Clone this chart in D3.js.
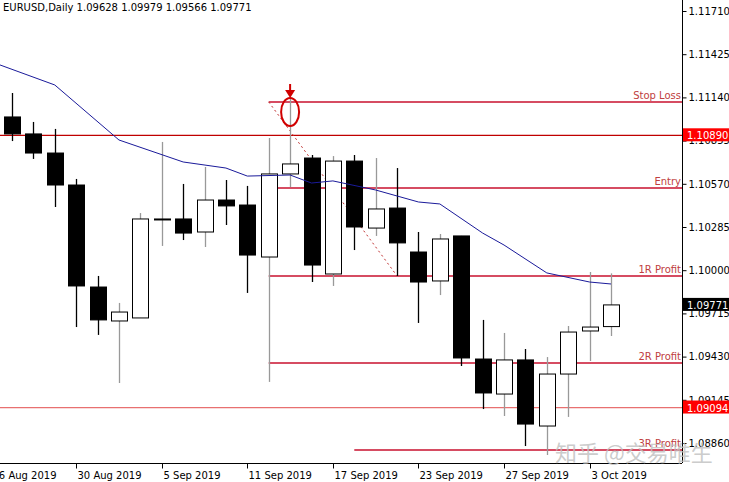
<!DOCTYPE html>
<html><head><meta charset="utf-8">
<script src="https://cdn.jsdelivr.net/npm/d3@7"></script>
<style>body{margin:0;background:#fff}svg{display:block;font-family:Tahoma,"DejaVu Sans",sans-serif}</style>
</head><body><svg id="c" width="729" height="482"></svg>
<script>
const dates=["27 Aug","28 Aug","29 Aug","30 Aug","2 Sep","3 Sep","4 Sep","5 Sep","6 Sep","9 Sep","10 Sep","11 Sep","12 Sep","13 Sep","16 Sep","17 Sep","18 Sep","19 Sep","20 Sep","23 Sep","24 Sep","25 Sep","26 Sep","27 Sep","30 Sep","1 Oct","2 Oct","3 Oct","4 Oct"];
const open =[1.11011,1.10899,1.10773,1.10562,1.09889,1.09665,1.09685,1.10338,1.10338,1.10252,1.10463,1.10430,1.10087,1.10635,1.10740,1.09975,1.10720,1.10278,1.10410,1.10120,1.09929,1.10226,1.09414,1.09183,1.09408,1.08972,1.09315,1.09599,1.09628];
const high =[1.11169,1.10978,1.10932,1.10602,1.09962,1.09784,1.10377,1.10846,1.10569,1.10681,1.10595,1.10556,1.10872,1.11136,1.10760,1.10753,1.10760,1.10740,1.10674,1.10252,1.10239,1.10226,1.09672,1.09586,1.09480,1.09427,1.09632,1.09988,1.09979];
const low  =[1.10852,1.10734,1.10417,1.09625,1.09573,1.09256,1.09685,1.10160,1.10199,1.10153,1.10298,1.09850,1.09263,1.10549,1.09922,1.09896,1.10133,1.10226,1.09962,1.09652,1.09836,1.09368,1.09084,1.09038,1.08840,1.08781,1.09032,1.09401,1.09566];
const close=[1.10899,1.10773,1.10562,1.09896,1.09672,1.09724,1.10338,1.10338,1.10245,1.10463,1.10424,1.10100,1.10635,1.10701,1.10034,1.10720,1.10285,1.10404,1.10180,1.09922,1.10206,1.09421,1.09190,1.09408,1.08985,1.09315,1.09592,1.09625,1.09771];
const maIdx=[-0.56,2,5,8,10,11,13,14,15,17,19,20,22,23,25,27,28];
const maVal=[1.11354,1.11222,1.10859,1.10714,1.10674,1.10621,1.10628,1.10575,1.10589,1.10529,1.10450,1.10437,1.10245,1.10166,1.09982,1.09922,1.09909];
const yTicks=[1.11710,1.11425,1.11140,1.10855,1.10570,1.10285,1.10000,1.09715,1.09430,1.09145,1.08860];
const xTickIdx=[-1,3,7,11,15,19,23,27];
const xTickLabels=["26 Aug 2019","30 Aug 2019","5 Sep 2019","11 Sep 2019","17 Sep 2019","23 Sep 2019","27 Sep 2019","3 Oct 2019"];
const levels=[{p:1.11110,label:"Stop Loss",from:12},{p:1.10542,label:"Entry",from:12},{p:1.09962,label:"1R Profit",from:12},{p:1.09388,label:"2R Profit",from:12},{p:1.08814,label:"3R Profit",from:16}];
const fullLines=[{p:1.10890,c:"#c00000"},{p:1.09094,c:"#e87070"}];
const tags=[{p:1.10890,t:"1.10890",c:"#ff0000"},{p:1.09094,t:"1.09094",c:"#ff0000"},{p:1.09771,t:"1.09771",c:"#000"}];

const svg=d3.select("#c"),W=682,H=463;
const x=d3.scaleLinear().domain([0,28]).range([12,611]);
const y=d3.scaleLinear().domain([1.08860,1.11710]).range([443,11]);
const g=svg.append("g");
fullLines.forEach(l=>g.append("line").attr("x1",0).attr("x2",W).attr("y1",y(l.p)).attr("y2",y(l.p)).attr("stroke",l.c).attr("stroke-width",1.2));
levels.forEach(l=>{
  const yy=y(l.p);
  g.append("line").attr("x1",x(l.from)).attr("x2",W).attr("y1",yy).attr("y2",yy).attr("stroke","#c8102e").attr("stroke-width",1.5);
  g.append("text").attr("x",W-1).attr("y",yy-3).attr("text-anchor","end").attr("font-size",10).attr("fill","#c04040").text(l.label);
});
g.append("line").attr("x1",x(12)).attr("y1",y(1.11110)).attr("x2",x(18)).attr("y2",y(1.09962)).attr("stroke","#c03030").attr("stroke-dasharray","2,3");
const bw=16;
dates.forEach((d,i)=>{
  const up=close[i]>=open[i], cx=Math.round(x(i))+0.5;
  g.append("line").attr("x1",cx).attr("x2",cx).attr("y1",y(high[i])).attr("y2",y(low[i])).attr("stroke",up?"#999":"#000").attr("stroke-width",1.3);
  const t=y(Math.max(open[i],close[i])),b=y(Math.min(open[i],close[i]));
  g.append("rect").attr("x",cx-bw/2).attr("y",t).attr("width",bw).attr("height",Math.max(1,b-t)).attr("fill",up?"#fff":"#000").attr("stroke","#000").attr("stroke-width",1);
});
g.append("path").datum(maIdx.map((v,i)=>[v,maVal[i]])).attr("d",d3.line().x(d=>x(d[0])).y(d=>y(d[1]))).attr("fill","none").attr("stroke","#1a1a9a").attr("stroke-width",1);
g.append("ellipse").attr("cx",x(13)).attr("cy",y(1.11110)+10).attr("rx",9).attr("ry",14).attr("fill","none").attr("stroke","#d00000").attr("stroke-width",2);
g.append("line").attr("x1",x(13)).attr("x2",x(13)).attr("y1",84).attr("y2",92).attr("stroke","#d00000").attr("stroke-width",2);
g.append("path").attr("d",`M${x(13)-5},90L${x(13)+5},90L${x(13)},98Z`).attr("fill","#d00000");
svg.append("line").attr("x1",W+0.5).attr("x2",W+0.5).attr("y1",0).attr("y2",H).attr("stroke","#000");
svg.append("line").attr("x1",0).attr("x2",W).attr("y1",H+0.5).attr("y2",H+0.5).attr("stroke","#000");
const ya=svg.append("g").attr("transform",`translate(${W+0.5},0)`).call(d3.axisRight(y).tickValues(yTicks).tickFormat(d3.format(".5f")).tickSize(4));
ya.select(".domain").remove();ya.selectAll("text").attr("font-size",10).attr("font-family","Tahoma,DejaVu Sans,sans-serif").attr("x",6);
const xa=svg.append("g").attr("transform",`translate(0,${H+0.5})`);
xTickIdx.forEach((v,i)=>{const xx=Math.round(x(v))+0.5;
  xa.append("line").attr("x1",xx).attr("x2",xx).attr("y1",0).attr("y2",5).attr("stroke","#000");
  xa.append("text").attr("x",xx+1).attr("y",15).attr("font-size",10).attr("fill","#000").text(xTickLabels[i]);});
tags.forEach(t=>{const yy=y(t.p);
  svg.append("rect").attr("x",W+1).attr("y",yy-7).attr("width",46).attr("height",13).attr("fill",t.c);
  svg.append("text").attr("x",W+5).attr("y",yy+4).attr("font-size",10).attr("fill","#fff").text(t.t);});
svg.append("text").attr("x",3).attr("y",11).attr("font-size",10).text("EURUSD,Daily  1.09628 1.09979 1.09566 1.09771");
svg.append("text").attr("x",555).attr("y",461).attr("font-size",22).attr("fill","rgba(190,190,190,0.8)").attr("font-family","Noto Sans CJK SC").text("知乎 @交易唯生");
</script></body></html>
